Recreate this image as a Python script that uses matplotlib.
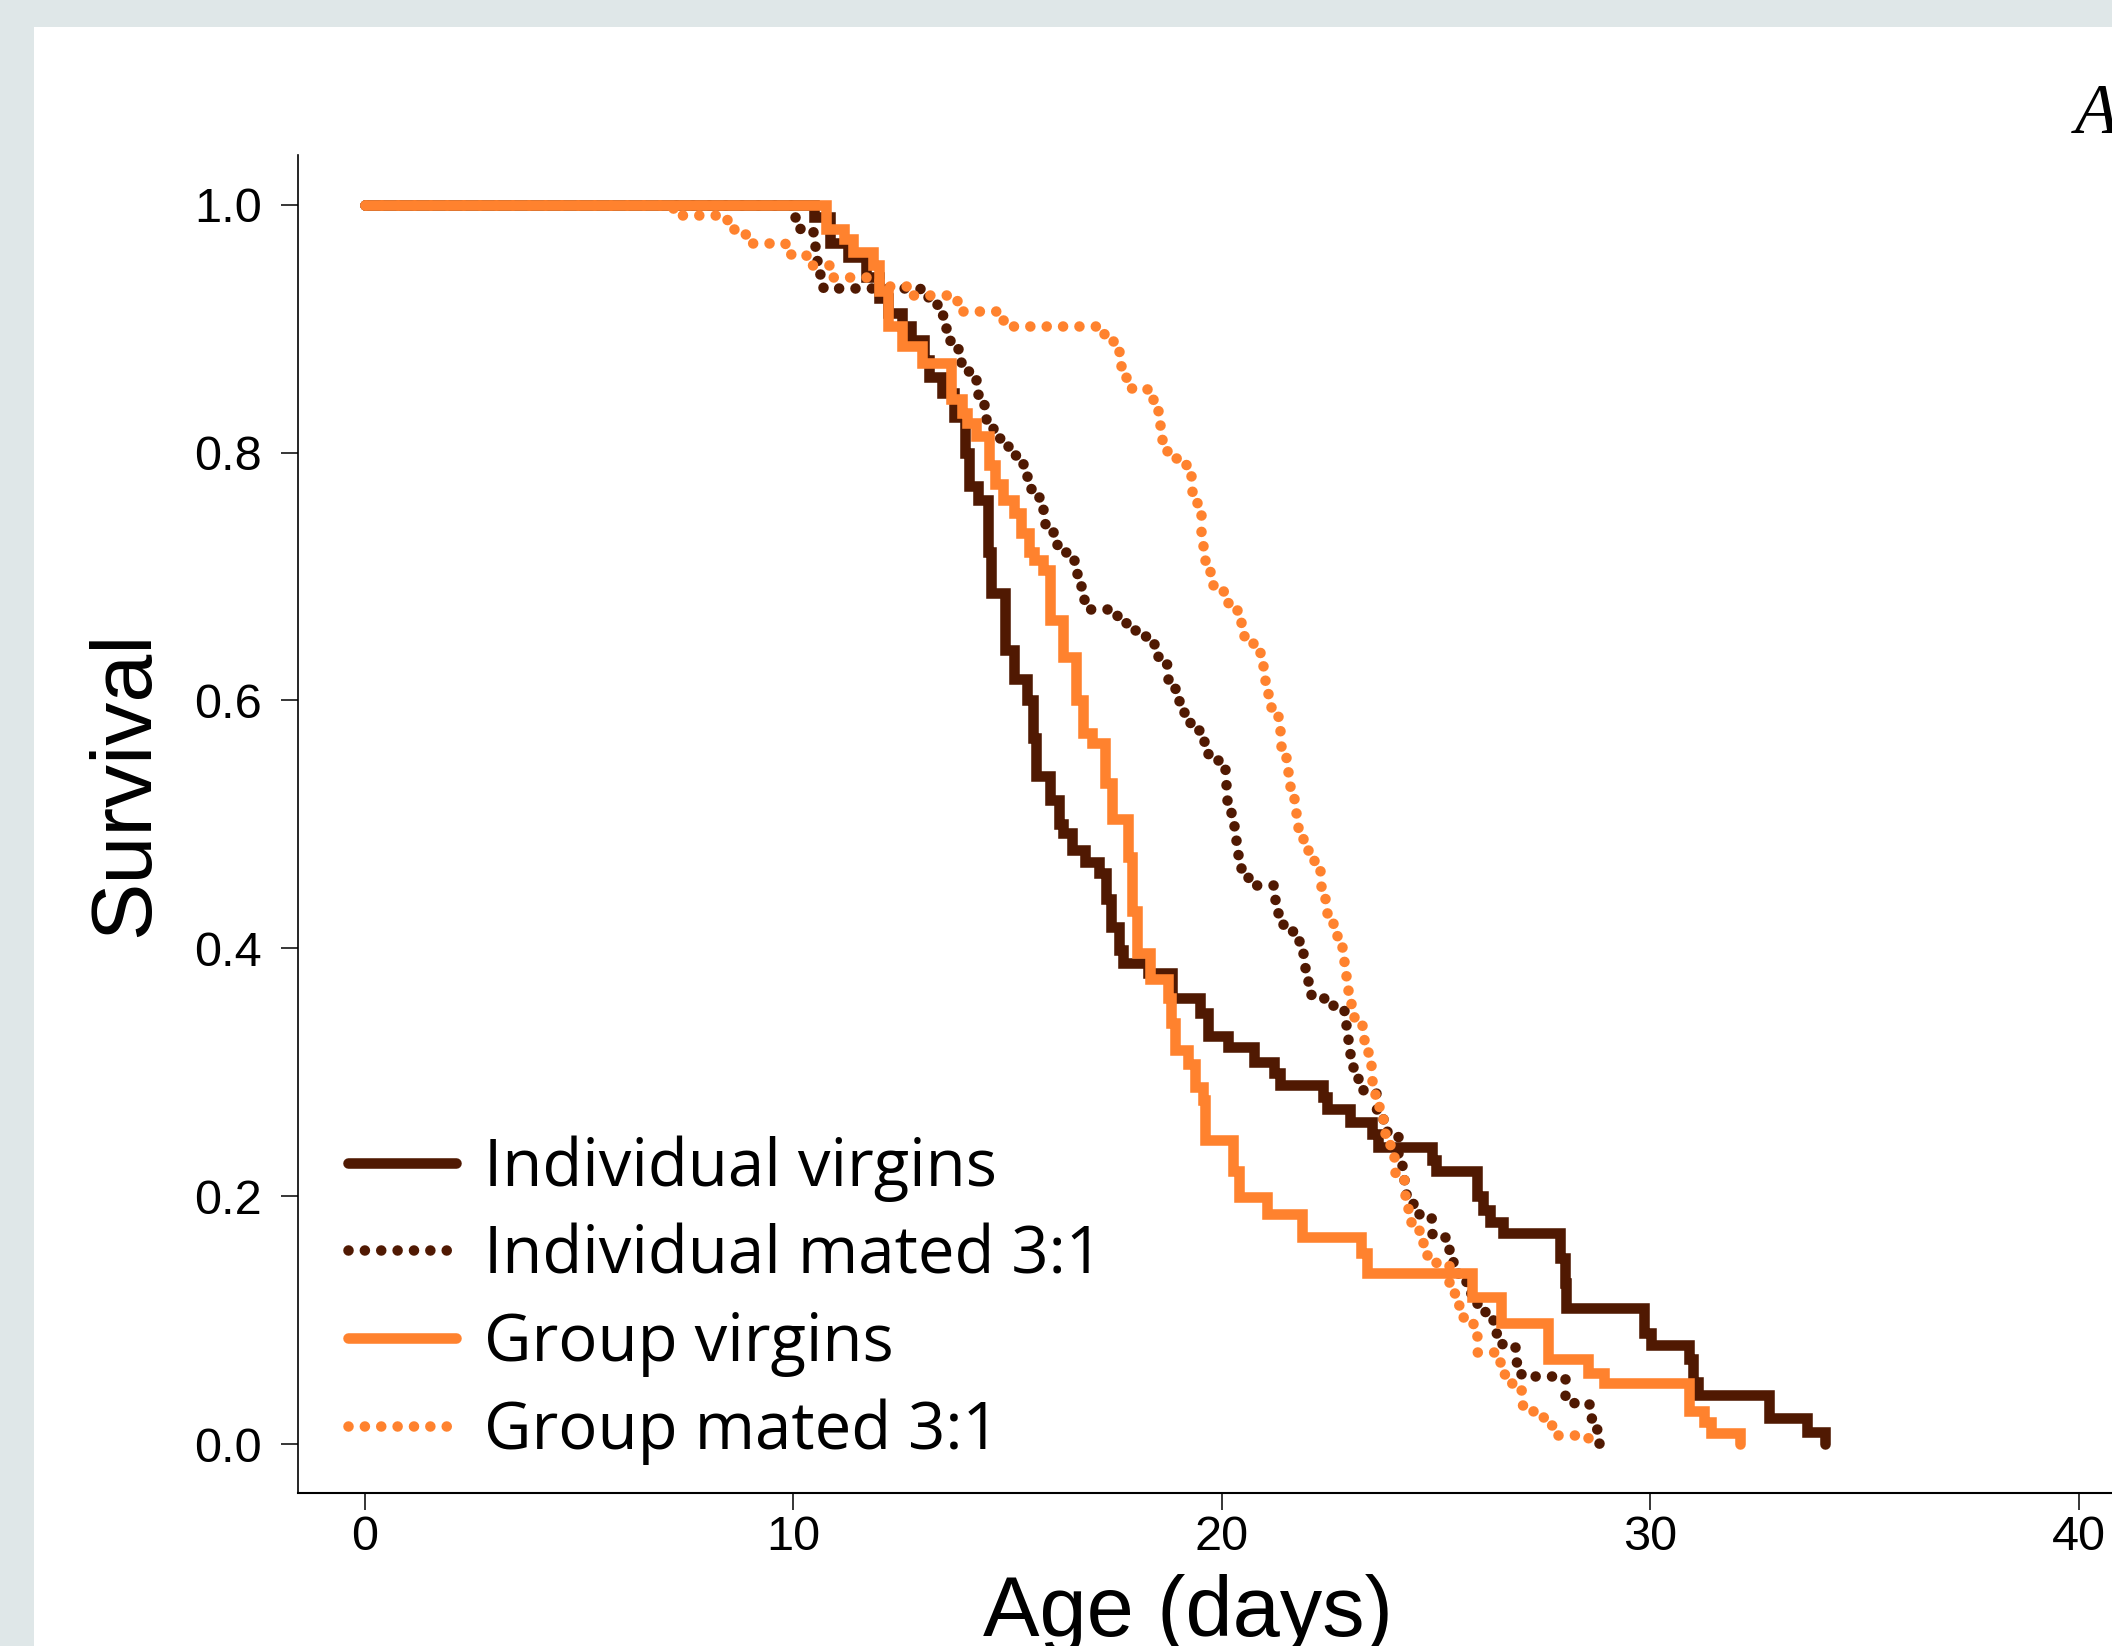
import matplotlib
matplotlib.use("Agg")
import matplotlib.pyplot as plt
from matplotlib import font_manager
from matplotlib.patches import Rectangle
from matplotlib.font_manager import FontProperties

# ---------------- data (Kaplan-Meier step points: time of drop, survival after) -------------
iv_days = [0, 10.49, 10.86, 11.28, 11.69, 12.0, 12.21, 12.53, 12.74, 13.05, 13.16, 13.47, 13.74,
           14.0, 14.1, 14.31, 14.55, 14.62, 14.94, 15.14, 15.45, 15.6, 15.66, 15.98, 16.2, 16.29,
           16.50, 16.81, 17.12, 17.3, 17.40, 17.59, 17.69, 18.27, 18.84, 19.49, 19.67, 20.15,
           20.74, 21.21, 21.36, 22.35, 22.45, 22.98, 23.5, 23.65, 24.9, 25.0, 25.95, 26.1, 26.26,
           26.57, 27.9, 28.0, 28.03, 29.85, 30.01, 30.89, 31.0, 31.1, 32.77, 33.65, 34.07]
iv_surv = [1.0, 0.99, 0.969, 0.958, 0.942, 0.925, 0.913, 0.902, 0.891, 0.875, 0.861, 0.848, 0.829,
           0.80, 0.773, 0.762, 0.72, 0.687, 0.641, 0.617, 0.6005, 0.57, 0.539, 0.52, 0.50, 0.493,
           0.479, 0.470, 0.461, 0.44, 0.4175, 0.3987, 0.388, 0.38, 0.36, 0.348, 0.329, 0.32,
           0.3086, 0.2993, 0.2897, 0.280, 0.27, 0.260, 0.25, 0.240, 0.229, 0.22, 0.20, 0.189, 0.179,
           0.170, 0.15, 0.13, 0.1095, 0.0893, 0.08, 0.069, 0.05, 0.0395, 0.021, 0.01, 0.0]

im_days = [0, 9.95, 10.15, 10.45, 10.5, 10.55, 10.7, 12.95, 13.15, 13.35, 13.5, 13.55, 13.65, 13.85,
           13.9, 14.15, 14.25, 14.3, 14.45, 14.5, 14.65, 14.85, 15.0, 15.35, 15.45, 15.55, 15.72,
           15.82, 15.87, 16.1, 16.15, 16.45, 16.55, 16.62, 16.7, 16.78, 17.55, 17.75, 18.0, 18.42,
           18.5, 18.72, 18.75, 18.9, 19.0, 19.12, 19.25, 19.5, 19.58, 19.67, 20.0, 20.08, 20.1,
           20.12, 20.22, 20.28, 20.33, 20.38, 20.45, 20.6, 21.25, 21.3, 21.42, 21.8, 21.9, 21.95,
           22.0, 22.07, 22.6, 22.85, 22.9, 22.95, 23.0, 23.05, 23.18, 23.3, 23.6, 23.76, 23.85,
           24.1, 24.2, 24.25, 24.3, 24.45, 24.6, 24.9, 25.3, 25.4, 25.5, 25.7, 25.95, 26.15, 26.33,
           26.4, 26.53, 26.85, 26.97, 28.0, 28.21, 28.62, 28.7, 28.81]
im_surv = [1.0, 0.99, 0.98, 0.969, 0.956, 0.944, 0.933, 0.927, 0.922, 0.911, 0.904, 0.893, 0.884,
           0.876, 0.866, 0.860, 0.851, 0.839, 0.832, 0.821, 0.812, 0.806, 0.798, 0.7835, 0.775,
           0.764, 0.757, 0.747, 0.736, 0.731, 0.720, 0.7175, 0.707, 0.696, 0.686, 0.674, 0.663,
           0.657, 0.6516, 0.640, 0.629, 0.625, 0.612, 0.603, 0.595, 0.586, 0.576, 0.572, 0.562,
           0.552, 0.550, 0.539, 0.527, 0.515, 0.505, 0.494, 0.482, 0.4705, 0.46, 0.451, 0.4366,
           0.4245, 0.414, 0.402, 0.393, 0.382, 0.3705, 0.36, 0.352, 0.346, 0.3357, 0.3236, 0.313,
           0.301, 0.291, 0.283, 0.27, 0.260, 0.2494, 0.2333, 0.2238, 0.2117, 0.2017, 0.1916,
           0.1822, 0.1673, 0.1566, 0.146, 0.134, 0.122, 0.1114, 0.1057, 0.0987, 0.0893, 0.0785,
           0.0664, 0.0549, 0.0387, 0.0323, 0.0212, 0.012, 0.0]

gv_days = [0, 10.76, 11.17, 11.38, 11.85, 12.0, 12.2, 12.53, 13.0, 13.68, 13.94, 14.05, 14.26,
           14.56, 14.7, 14.88, 15.14, 15.30, 15.5, 15.61, 15.82, 15.98, 16.29, 16.6, 16.76, 16.97,
           17.27, 17.43, 17.80, 17.9, 18.01, 18.32, 18.74, 18.8, 18.9, 19.2, 19.36, 19.55, 19.6,
           20.26, 20.4, 21.05, 21.88, 23.24, 23.38, 25.83, 26.51, 27.61, 28.54, 28.91, 30.89,
           31.26, 31.41, 32.09]
gv_surv = [1.0, 0.980, 0.972, 0.962, 0.951, 0.93, 0.902, 0.886, 0.872, 0.843, 0.832, 0.824, 0.813,
           0.79, 0.775, 0.762, 0.751, 0.735, 0.72, 0.713, 0.705, 0.665, 0.635, 0.60, 0.574, 0.566,
           0.533, 0.504, 0.474, 0.43, 0.396, 0.375, 0.36, 0.34, 0.318, 0.307, 0.288, 0.278, 0.245,
           0.22, 0.1996, 0.186, 0.167, 0.154, 0.138, 0.119, 0.0975, 0.069, 0.057, 0.049, 0.027,
           0.018, 0.009, 0.0]

gm_days = [0, 7.2, 8.45, 8.7, 8.95, 9.8, 10.3, 10.82, 12.0, 12.65, 13.82, 14.75, 14.95, 17.25,
           17.5, 17.6, 17.65, 17.75, 18.25, 18.4, 18.5, 18.55, 18.6, 18.72, 19.15, 19.28, 19.3,
           19.42, 19.5, 19.52, 19.55, 19.6, 19.72, 19.8, 20.15, 20.35, 20.45, 20.52, 20.72, 20.9,
           20.95, 21.0, 21.08, 21.15, 21.3, 21.35, 21.38, 21.5, 21.55, 21.6, 21.68, 21.72, 21.78,
           21.9, 22.0, 22.15, 22.28, 22.32, 22.4, 22.45, 22.6, 22.68, 22.8, 22.85, 22.9, 22.95,
           23.02, 23.08, 23.28, 23.32, 23.4, 23.47, 23.5, 23.57, 23.67, 23.75, 23.8, 23.92, 24.02,
           24.05, 24.25, 24.28, 24.35, 24.42, 24.6, 24.7, 24.78, 25.0, 25.3, 25.4, 25.45, 25.6,
           25.85, 25.92, 25.95, 26.35, 26.55, 26.7, 26.95, 27.0, 27.25, 27.45, 27.65, 27.85, 28.55]
gm_surv = [1.0, 0.992, 0.98, 0.976, 0.969, 0.96, 0.951, 0.942, 0.934, 0.927, 0.914, 0.907, 0.902,
           0.890, 0.886, 0.876, 0.863, 0.8525, 0.8445, 0.837, 0.8275, 0.816, 0.805, 0.796, 0.787,
           0.776, 0.763, 0.754, 0.746, 0.734, 0.7215, 0.709, 0.699, 0.688, 0.674, 0.668, 0.659,
           0.648, 0.641, 0.6335, 0.6225, 0.612, 0.6005, 0.59, 0.582, 0.571, 0.5585, 0.549, 0.5375,
           0.526, 0.516, 0.504, 0.493, 0.485, 0.475, 0.467, 0.458, 0.447, 0.436, 0.426, 0.4175,
           0.4076, 0.398, 0.387, 0.375, 0.362, 0.353, 0.343, 0.336, 0.324, 0.313, 0.303, 0.291,
           0.280, 0.270, 0.259, 0.248, 0.240, 0.229, 0.217, 0.211, 0.197, 0.187, 0.176, 0.1714,
           0.1606, 0.150, 0.146, 0.130, 0.1216, 0.112, 0.1028, 0.0968, 0.0872, 0.0745, 0.0664,
           0.0565, 0.049, 0.0436, 0.0315, 0.026, 0.022, 0.0153, 0.0073, 0.0]

series_labels = ["Individual virgins", "Individual mated 3:1", "Group virgins", "Group mated 3:1"]
x_ticks = [0, 10, 20, 30, 40]
y_ticks = [0.0, 0.2, 0.4, 0.6, 0.8, 1.0]
y_tick_labels = ["0.0", "0.2", "0.4", "0.6", "0.8", "1.0"]

# ---------------- styling ----------------
BROWN = "#501902"
ORANGE = "#ff822e"
BG = "#dfe7e8"


def pick(*names):
    for n in names:
        try:
            font_manager.findfont(FontProperties(family=n), fallback_to_default=False)
            return n
        except Exception:
            pass
    return "DejaVu Sans"


SANS = pick("Liberation Sans", "Arial", "DejaVu Sans")
LEG = pick("Open Sans", "Noto Sans", "DejaVu Sans")
SERIF = pick("Liberation Serif", "DejaVu Serif")

W, H = 2112, 1646
fig = plt.figure(figsize=(W / 100, H / 100), dpi=100)
fig.patch.set_facecolor(BG)
fig.patches.append(Rectangle((34 / W, 0), 1, 1 - 27 / H, transform=fig.transFigure,
                             facecolor="white", edgecolor="none", zorder=-5))

ax_left, ax_right_px = 298, 298 + 43.56 * 42.85
ax_top, ax_bot = 155, 1493
ax = fig.add_axes([ax_left / W, 1 - ax_bot / H, (ax_right_px - ax_left) / W, (ax_bot - ax_top) / H])
ax.set_facecolor("none")
ax.set_zorder(2)
ax.set_xlim(-1.5636, 42.0)
ax.set_ylim(-0.0395, 1.0401)

LW = 7.6
dot = (0, (0.001, 1.55))
common = dict(drawstyle="steps-post", linewidth=LW)
h1, = ax.plot(iv_days, iv_surv, color=BROWN, solid_capstyle="round", solid_joinstyle="miter",
              label=series_labels[0], **common)
h2, = ax.plot(im_days, im_surv, color=BROWN, linestyle=dot, dash_capstyle="round",
              label=series_labels[1], **common)
h3, = ax.plot(gv_days, gv_surv, color=ORANGE, solid_capstyle="round", solid_joinstyle="miter",
              label=series_labels[2], **common)
h4, = ax.plot(gm_days, gm_surv, color=ORANGE, linestyle=dot, dash_capstyle="round",
              label=series_labels[3], **common)

for s in ["top", "right"]:
    ax.spines[s].set_visible(False)
ax.spines["left"].set_linewidth(1.2)
ax.spines["bottom"].set_linewidth(1.5)

ax.set_xticks(x_ticks)
ax.set_xticklabels([str(v) for v in x_ticks])
ax.set_yticks(y_ticks)
ax.set_yticklabels(y_tick_labels)
ax.tick_params(axis="both", direction="out", length=12, width=1.1, colors="black",
               labelsize=35)
ax.tick_params(axis="y", pad=14)
ax.tick_params(axis="x", pad=4)
for lab in ax.get_xticklabels() + ax.get_yticklabels():
    lab.set_fontfamily(SANS)

leg_fs = 47
leg = ax.legend(handles=[h1, h2, h3, h4], labels=series_labels, loc="upper left",
                bbox_to_anchor=(348 / W, 1 - 1135 / H), bbox_transform=fig.transFigure,
                frameon=False, prop=FontProperties(family=LEG, size=leg_fs),
                handlelength=1.66, handletextpad=0.42, labelspacing=0.33,
                borderpad=0, borderaxespad=0)

fig.text(86 / W, 1 - 784 / H, "Survival", rotation=90, ha="left", va="center",
         fontsize=62, family=SANS)
fig.text(1188 / W, 1 - 1636 / H, "Age (days)", ha="center", va="baseline",
         fontsize=61, family=SANS)
fig.text(2075 / W, 1 - 133 / H, "A", ha="left", va="baseline", fontsize=51,
         family=SERIF, style="italic")

fig.savefig("out.png", dpi=100, facecolor=fig.get_facecolor())
